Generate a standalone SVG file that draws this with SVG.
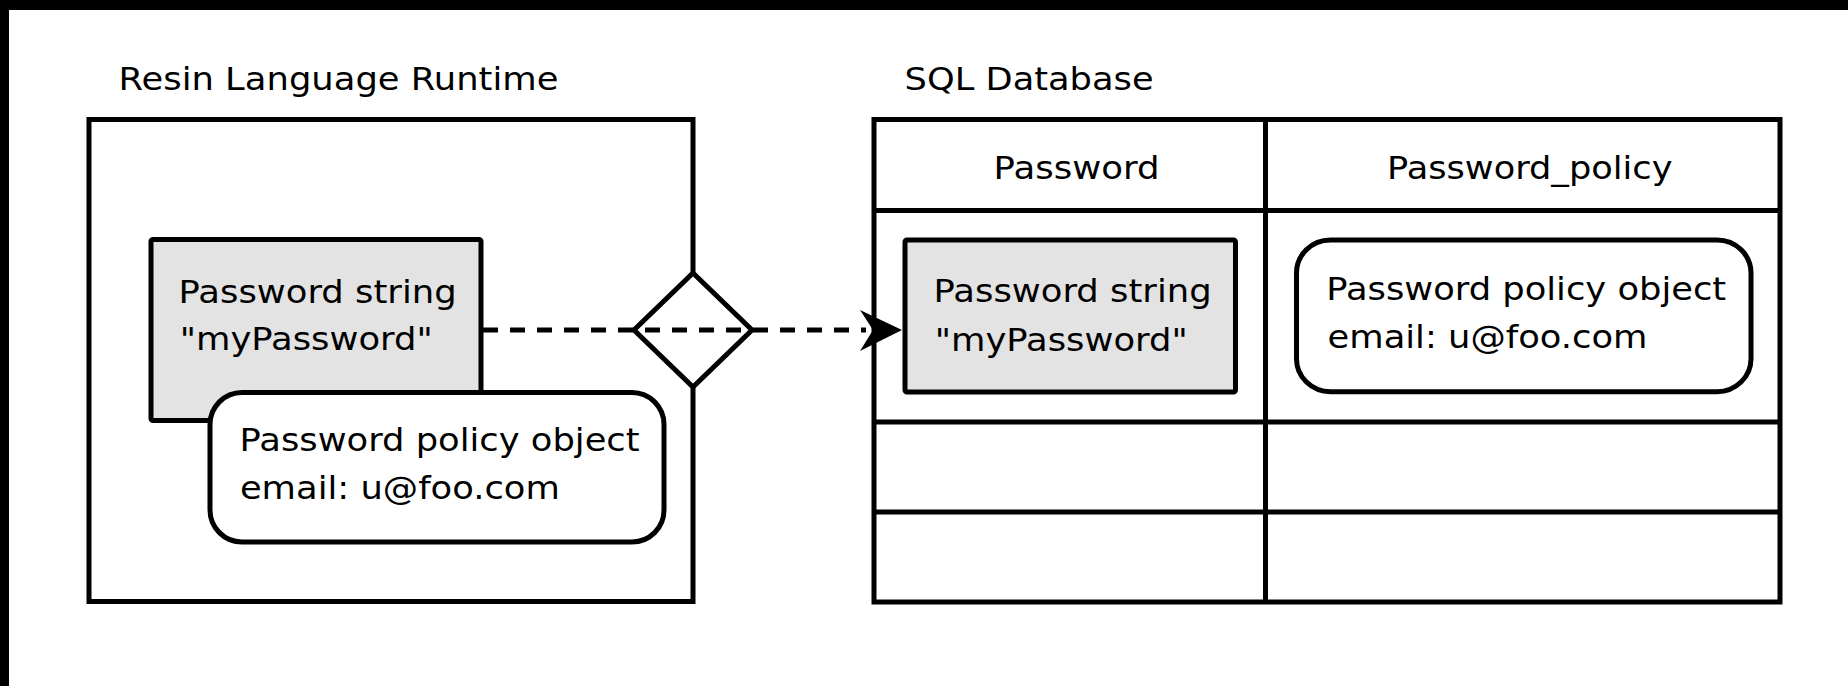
<svg xmlns="http://www.w3.org/2000/svg" width="1848" height="686" viewBox="0 0 1848 686">
  <style>
    .frame { fill: #ffffff; stroke: #000000; stroke-width: 5; }
    .value { fill: #e3e3e3; stroke: #000000; stroke-width: 5; }
    .object { fill: #ffffff; stroke: #000000; stroke-width: 5; }
    .rule { fill: none; stroke: #000000; stroke-width: 5; }
    .flow { fill: none; stroke: #000000; stroke-width: 5; stroke-dasharray: 15 12; }
    text { font-family: "DejaVu Sans", "Liberation Sans", sans-serif; font-size: 32px; fill: #000000; }
  </style>

  <!-- page background with dark edge strips -->
  <rect x="0" y="0" width="1848" height="686" fill="#ffffff"/>
  <rect x="0" y="0" width="1848" height="10" fill="#000000"/>
  <rect x="0" y="0" width="9" height="686" fill="#000000"/>

  <!-- runtime container -->
  <g id="runtime">
    <text x="118.5" y="90" textLength="440" lengthAdjust="spacingAndGlyphs">Resin Language Runtime</text>
    <rect class="frame" x="89" y="119.5" width="604" height="482"/>
  </g>

  <!-- database table -->
  <g id="database">
    <text x="904.6" y="90" textLength="249" lengthAdjust="spacingAndGlyphs">SQL Database</text>
    <rect class="frame" x="874" y="119.5" width="906" height="482.5"/>
    <line class="rule" x1="1265.5" y1="119.5" x2="1265.5" y2="602"/>
    <line class="rule" x1="874" y1="210.5" x2="1780" y2="210.5"/>
    <line class="rule" x1="874" y1="422" x2="1780" y2="422"/>
    <line class="rule" x1="874" y1="512" x2="1780" y2="512"/>
    <text x="993.6" y="179" textLength="166" lengthAdjust="spacingAndGlyphs">Password</text>
    <text x="1387" y="179" textLength="285.5" lengthAdjust="spacingAndGlyphs">Password_policy</text>
  </g>

  <!-- in-memory password string -->
  <g id="runtime-string">
    <rect class="value" x="151" y="239.5" width="330" height="181" rx="2"/>
    <text x="178.6" y="303" textLength="278" lengthAdjust="spacingAndGlyphs">Password string</text>
    <text x="179.7" y="350" textLength="253" lengthAdjust="spacingAndGlyphs">"myPassword"</text>
  </g>

  <!-- in-memory policy object -->
  <g id="runtime-policy">
    <rect class="object" x="210" y="392.5" width="454" height="149.5" rx="32" ry="32"/>
    <text x="239.6" y="451" textLength="400" lengthAdjust="spacingAndGlyphs">Password policy object</text>
    <text x="239.9" y="499" textLength="320" lengthAdjust="spacingAndGlyphs">email: u@foo.com</text>
  </g>

  <!-- boundary check on the runtime edge -->
  <g id="boundary">
    <polygon class="object" points="693,273 752,330 693,387 634,330"/>
  </g>

  <!-- stored password string -->
  <g id="db-string">
    <rect class="value" x="905" y="240" width="330.5" height="152" rx="2"/>
    <text x="933.6" y="302" textLength="278" lengthAdjust="spacingAndGlyphs">Password string</text>
    <text x="934.7" y="350.5" textLength="253" lengthAdjust="spacingAndGlyphs">"myPassword"</text>
  </g>

  <!-- stored policy object -->
  <g id="db-policy">
    <rect class="object" x="1296.5" y="240" width="454.5" height="151.7" rx="34" ry="33"/>
    <text x="1326.2" y="300" textLength="400" lengthAdjust="spacingAndGlyphs">Password policy object</text>
    <text x="1327.5" y="348" textLength="320" lengthAdjust="spacingAndGlyphs">email: u@foo.com</text>
  </g>

  <!-- data flow from runtime string to stored string -->
  <g id="connectors">
    <line class="flow" x1="483" y1="330" x2="866" y2="330"/>
    <path d="M902,330 L860,310 L873,330 L860,351 Z" fill="#000000"/>
  </g>
</svg>
